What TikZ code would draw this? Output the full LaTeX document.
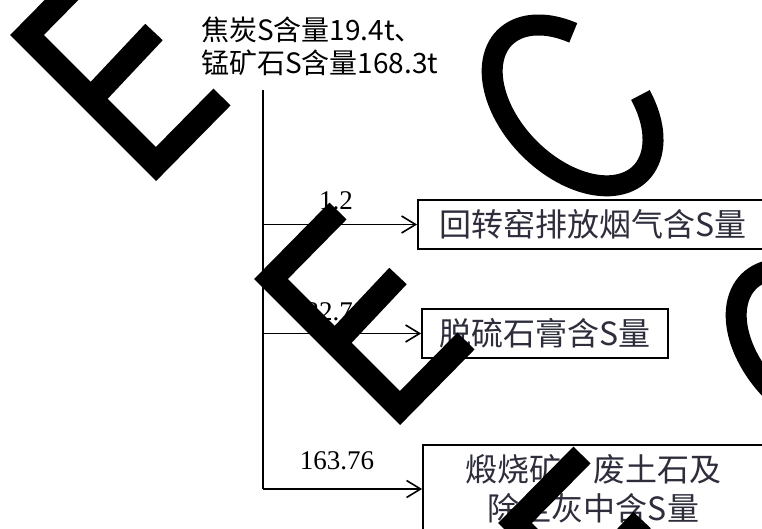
\documentclass[tikz,border=0pt]{standalone}
\usepackage{fontspec}
\setmainfont{Liberation Serif}
\newfontfamily\cjk{Noto Sans CJK SC}
\usetikzlibrary{arrows.meta}
\definecolor{boxtext}{RGB}{45,45,60}
\begin{document}
\begin{tikzpicture}[x=1pt,y=-1pt,
  box/.style={draw, line width=1.8pt, inner sep=0pt, align=center,
    font=\cjk\fontsize{32}{39}\selectfont, text=boxtext},
  lab/.style={inner sep=0pt, font=\fontsize{27}{30}\selectfont},
  trunk/.style={line width=1.6pt},
  flow/.style={line width=1.6pt, -{Straight Barb[length=14pt,width=17pt]}},
  wm/.style={draw=black, line width=24pt, line join=miter, line cap=butt},
  wmc/.style={draw=black, line width=21pt, line cap=butt}]
\path[use as bounding box, clip] (0,0) rectangle (762,529);
\fill[white] (0,0) rectangle (762,529);

% source text
\node[anchor=west, align=left, inner sep=0pt, font=\cjk\fontsize{28}{33}\selectfont] (src) at (201,46.5)
  {焦炭S含量19.4t、\\锰矿石S含量168.3t};

% boxes
\node[box, minimum width=350pt, minimum height=49pt] (b1) at (593,224.5) {回转窑排放烟气含S量};
\node[box, minimum width=246pt, minimum height=49pt] (b2) at (545,333.5) {脱硫石膏含S量};
\node[box, minimum width=341pt, minimum height=88pt] (b3) at (593.5,489) {煅烧矿、废土石及\\除尘灰中含S量};

% connectors
\coordinate (v0) at (263,90);
\coordinate (v3) at (263,489);
\draw[trunk] (v0) -- (v3);
\draw[flow] (v0 |- b1.west) -- (b1.west);
\draw[flow] (v0 |- b2.west) -- (b2.west);
\draw[flow] (v3) -- (b3.west);

% labels
\node[lab] (l1) at (336,201) {1.2};
\node[lab] (l2) at (336,312) {22.74};
\node[lab] (l3) at (337,460.5) {163.76};

% watermark letters
\foreach \d in {0,244,488}{
  \begin{scope}[shift={({27+\d},{35+\d})}]
    \draw[wm] (67,-68) -- (0,0) -- (129,129) -- (195,62);
    \draw[wm] (64,64) -- (127,-3);
  \end{scope}
}
\foreach \d in {0,244}{
  \begin{scope}[shift={({572.6+\d},{105.4+\d})}, x={(0.7071pt,0.7071pt)}, y={(-0.7071pt,0.7071pt)}]
    \draw[wmc] plot[domain=32:335, samples=90, smooth] ({61*cos(\x)},{96*sin(\x)});
  \end{scope}
}
\end{tikzpicture}
\end{document}
